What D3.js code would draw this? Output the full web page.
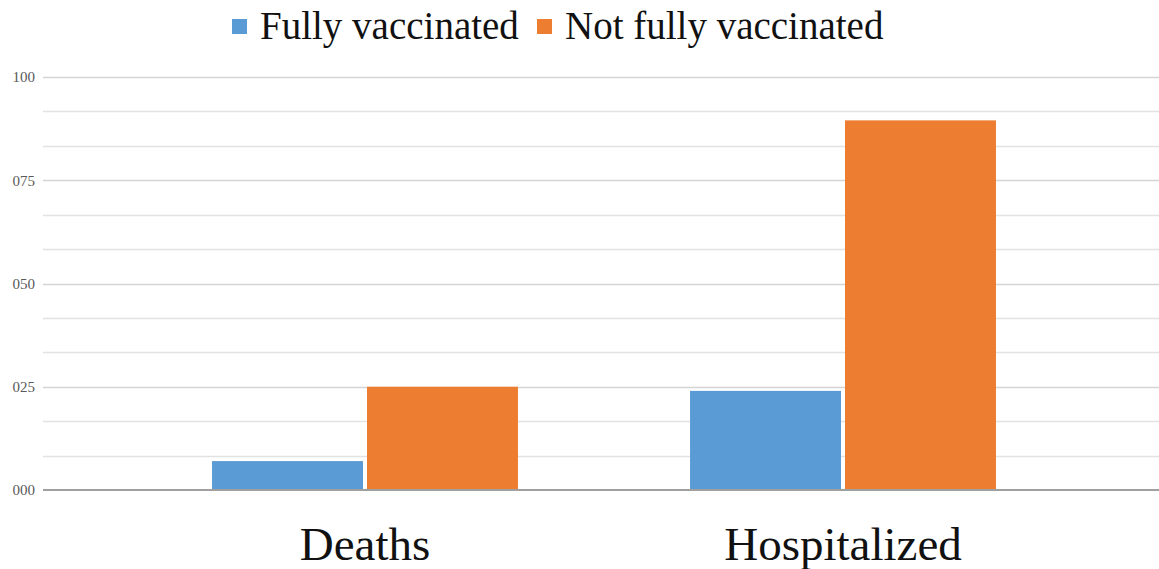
<!DOCTYPE html>
<html lang="en">
<head>
  <meta charset="UTF-8" />
  <title>Vaccination status</title>
  <style>
    body { margin: 0; background: #fff; }
    svg { display: block; }
    .tick-label { font-family: "Liberation Serif", "Times New Roman", serif; font-size: 15px; fill: #595959; }
    .cat-label { font-family: "Liberation Serif", "Times New Roman", serif; font-size: 47px; fill: #111; text-anchor: middle; }
    .legend-text { font-family: "Liberation Serif", "Times New Roman", serif; font-size: 39px; fill: #111; }
  </style>
</head>
<body>
  <svg width="1159" height="569"></svg>

  <script src="https://d3js.org/d3.v7.min.js"></script>
  <script>
    // data
    const categories = ["Deaths", "Hospitalized"];
    const seriesNames = ["Fully vaccinated", "Not fully vaccinated"];
    const fullyVaccinated = [7, 24];
    const notFullyVaccinated = [25, 89.5];
    const yTicks = [0, 25, 50, 75, 100];
    const colors = ["#5b9bd5", "#ed7d31"];

    const svg = d3.select("svg");

    // scales
    const y = d3.scaleLinear().domain([0, 100]).range([490, 77]);
    const x0 = d3.scaleBand().domain(categories).range([126, 1082]).padding(0);
    const x1 = d3.scaleBand().domain(seriesNames)
      .range([x0.bandwidth() * 0.18, x0.bandwidth() * 0.82])
      .paddingInner(4 / 155);
    const color = d3.scaleOrdinal().domain(seriesNames).range(colors);

    // gridlines (3 per major step)
    const minor = d3.range(0, 100.01, 25 / 3);
    svg.append("g")
      .selectAll("line")
      .data(minor.slice(1))
      .join("line")
      .attr("x1", 43).attr("x2", 1159)
      .attr("y1", d => Math.round(y(d)) + 0.5)
      .attr("y2", d => Math.round(y(d)) + 0.5)
      .attr("stroke", (d, i) => (i + 1) % 3 === 0 ? "#d4d4d4" : "#e2e2e2")
      .attr("stroke-width", 1.5);

    // y tick labels
    svg.append("g")
      .selectAll("text")
      .data(yTicks)
      .join("text")
      .attr("class", "tick-label")
      .attr("x", 35)
      .attr("y", d => y(d))
      .attr("dy", "0.35em")
      .attr("text-anchor", "end")
      .text(d3.format("03d"));

    // bars
    const rows = categories.map((c, i) => ({
      cat: c,
      values: [
        { key: seriesNames[0], value: fullyVaccinated[i] },
        { key: seriesNames[1], value: notFullyVaccinated[i] }
      ]
    }));

    svg.append("g")
      .selectAll("g")
      .data(rows)
      .join("g")
      .attr("transform", d => `translate(${x0(d.cat)},0)`)
      .selectAll("rect")
      .data(d => d.values)
      .join("rect")
      .attr("x", d => x1(d.key))
      .attr("width", x1.bandwidth())
      .attr("y", d => y(d.value))
      .attr("height", d => y(0) - y(d.value))
      .attr("fill", d => color(d.key));

    // baseline
    svg.append("line")
      .attr("x1", 43).attr("x2", 1159)
      .attr("y1", y(0)).attr("y2", y(0))
      .attr("stroke", "#a0a0a0")
      .attr("stroke-width", 2);

    // category labels
    svg.append("g")
      .selectAll("text")
      .data(categories)
      .join("text")
      .attr("class", "cat-label")
      .attr("x", d => x0(d) + x0.bandwidth() / 2)
      .attr("y", 560)
      .text(d => d);

    // legend
    const legendX = [232, 537];
    const legend = svg.append("g")
      .selectAll("g")
      .data(seriesNames)
      .join("g")
      .attr("transform", (d, i) => `translate(${legendX[i]},0)`);
    legend.append("rect")
      .attr("x", 0).attr("y", 19)
      .attr("width", 15).attr("height", 15)
      .attr("fill", d => color(d));
    legend.append("text")
      .attr("class", "legend-text")
      .attr("x", 28).attr("y", 39)
      .text(d => d);
  </script>
</body>
</html>
